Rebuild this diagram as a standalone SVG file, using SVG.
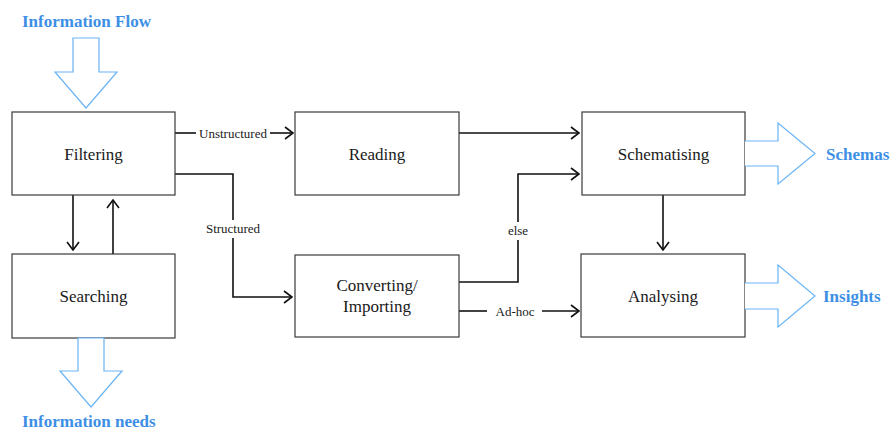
<svg xmlns="http://www.w3.org/2000/svg" width="892" height="431" viewBox="0 0 892 431">
<style>
.box{fill:#fff;stroke:#3a3a3a;stroke-width:1.2}
.lbl{font-family:"Liberation Serif","Times New Roman","DejaVu Serif",serif;font-size:17px;fill:#1a1a1a;text-anchor:middle}
.sm{font-family:"Liberation Serif","Times New Roman","DejaVu Serif",serif;font-size:13px;fill:#1a1a1a;text-anchor:middle}
.con{fill:none;stroke:#111;stroke-width:1.6}
.blk{fill:#fff;stroke:#6ab4f5;stroke-width:1.2}
.bt{font-family:"Liberation Serif","Times New Roman","DejaVu Serif",serif;font-size:17px;font-weight:bold;fill:#3d8fe6}
</style>
<defs>
<marker id="ah" markerUnits="userSpaceOnUse" viewBox="0 0 10 14" refX="9" refY="7" markerWidth="10" markerHeight="14" orient="auto">
<path d="M1,1 L9,7 L1,13" fill="none" stroke="#111" stroke-width="1.6"/>
</marker>
</defs>
<rect width="892" height="431" fill="#fff"/>
<g id="connectors">
<path class="con" d="M175,133 H196"/>
<path class="con" d="M270,133 H293" marker-end="url(#ah)"/>
<text class="sm" x="233" y="137.5">Unstructured</text>
<path class="con" d="M175,174 H233 V220"/>
<path class="con" d="M233,238 V297 H292" marker-end="url(#ah)"/>
<text class="sm" x="233" y="233">Structured</text>
<path class="con" d="M73,195 V250" marker-end="url(#ah)"/>
<path class="con" d="M113,254 V200" marker-end="url(#ah)"/>
<path class="con" d="M459,133 H579" marker-end="url(#ah)"/>
<path class="con" d="M459,282 H518 V240"/>
<path class="con" d="M518,222 V174 H579" marker-end="url(#ah)"/>
<text class="sm" x="518" y="235">else</text>
<path class="con" d="M459,311 H487"/>
<path class="con" d="M542,311 H579" marker-end="url(#ah)"/>
<text class="sm" x="515" y="315.5">Ad-hoc</text>
<path class="con" d="M663,195 V250" marker-end="url(#ah)"/>
</g>
<g id="filtering"><rect class="box" x="12" y="112" width="163" height="83"/><text class="lbl" x="93.5" y="159.5">Filtering</text></g>
<g id="searching"><rect class="box" x="12" y="254" width="163" height="84"/><text class="lbl" x="93.5" y="302">Searching</text></g>
<g id="reading"><rect class="box" x="295" y="112" width="164" height="83"/><text class="lbl" x="377" y="159.5">Reading</text></g>
<g id="converting"><rect class="box" x="295" y="255" width="164" height="82"/><text class="lbl" x="377" y="291">Converting/</text><text class="lbl" x="377" y="312">Importing</text></g>
<g id="schematising"><rect class="box" x="582" y="112" width="163" height="83"/><text class="lbl" x="663.5" y="159.5">Schematising</text></g>
<g id="analysing"><rect class="box" x="581" y="254" width="164" height="83"/><text class="lbl" x="663" y="302">Analysing</text></g>
<g id="information-flow"><path class="blk" d="M73,38 H99 V72 H117 L86,108 L55,72 H73 Z"/><text class="bt" x="22" y="27">Information Flow</text></g>
<g id="information-needs"><path class="blk" d="M78,338 H104 V371 H122 L91,407 L60,371 H78 Z"/><text class="bt" x="22" y="427">Information needs</text></g>
<g id="schemas"><path class="blk" d="M745,141 H778 V123 L815,153.5 L778,184 V166 H745"/><text class="bt" x="826" y="159.5">Schemas</text></g>
<g id="insights"><path class="blk" d="M745,283 H778 V265 L815,296 L778,327 V309 H745"/><text class="bt" x="823" y="302">Insights</text></g>
</svg>
